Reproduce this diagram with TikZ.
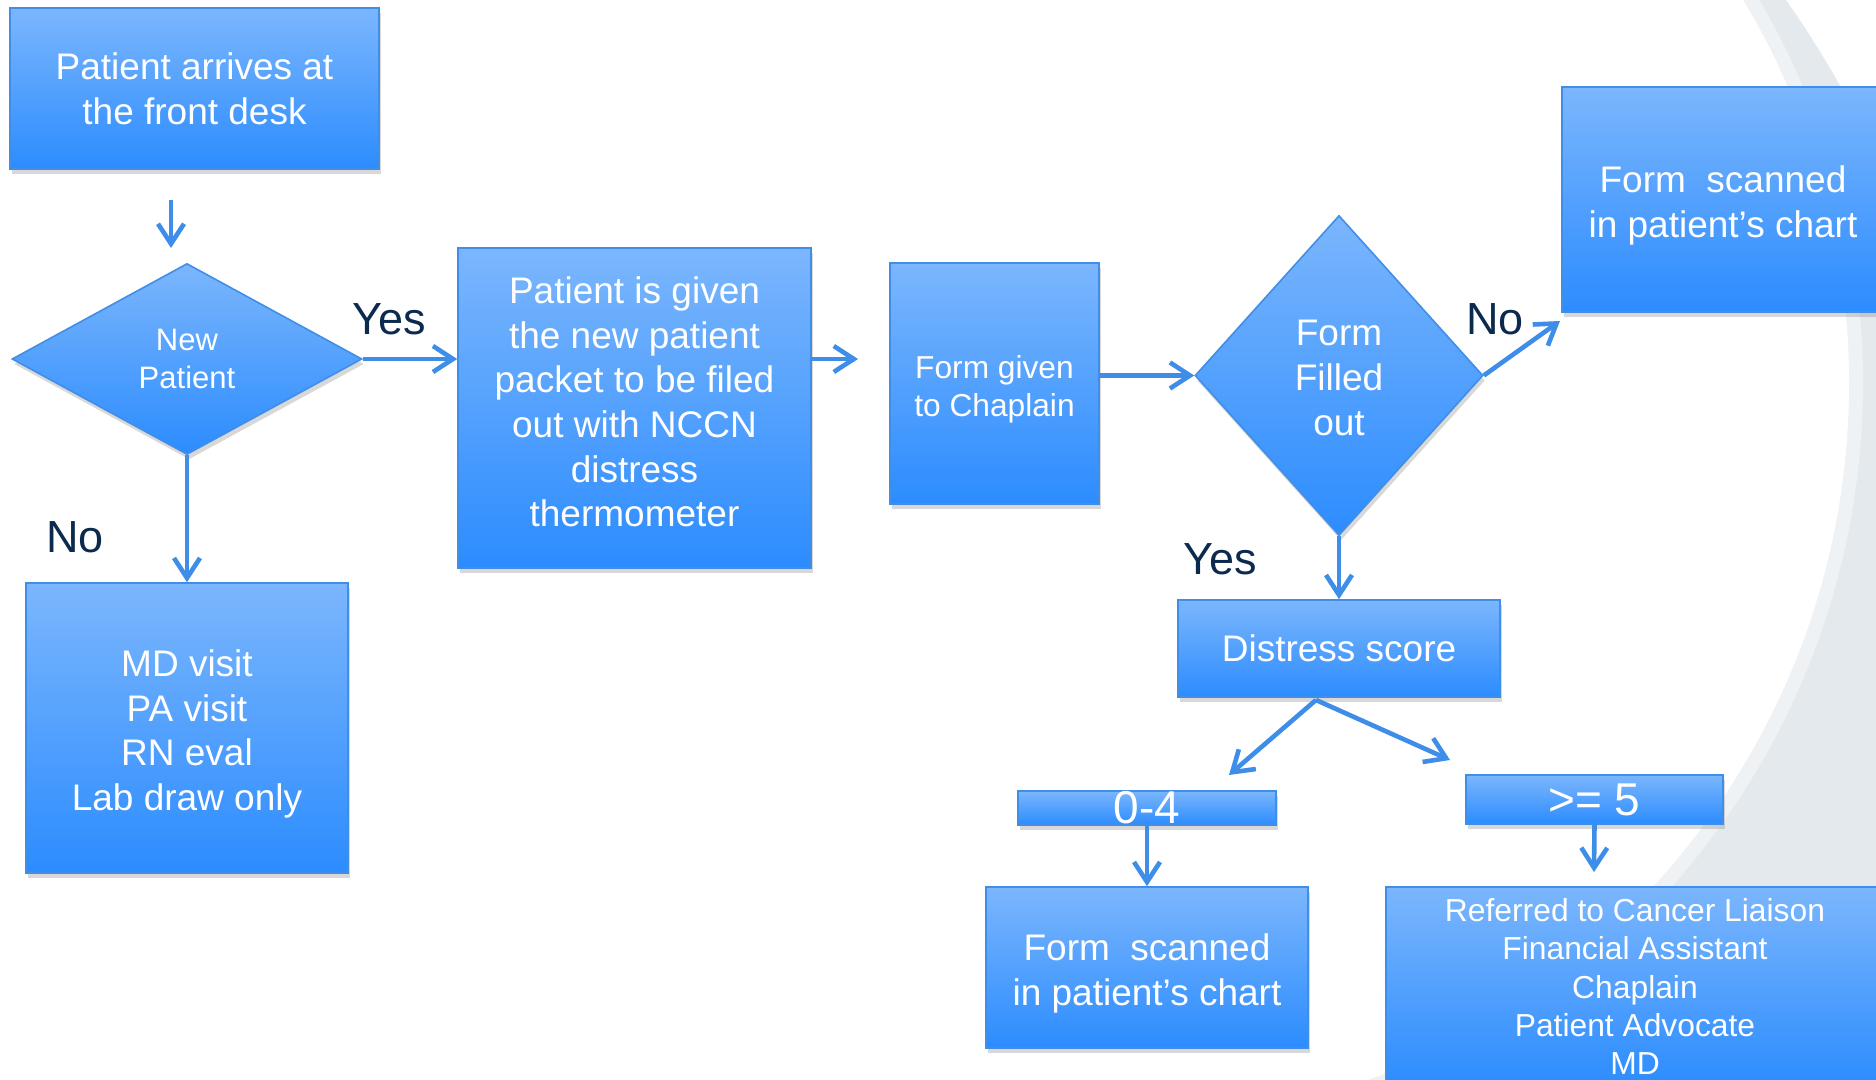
\documentclass[tikz,border=0pt]{standalone}
\usepackage{fontspec}
\setmainfont{Liberation Sans}
\usetikzlibrary{arrows.meta,shapes.geometric,shadows}
\definecolor{boxtop}{RGB}{123,182,253}
\definecolor{boxbot}{RGB}{44,140,254}
\definecolor{boxline}{RGB}{64,142,232}
\definecolor{arrowblue}{RGB}{62,141,232}
\definecolor{lblnavy}{RGB}{12,42,78}
\definecolor{bandgray}{RGB}{227,233,237}
\definecolor{bandlight}{RGB}{238,242,245}
\begin{document}
\begin{tikzpicture}[x=0.5pt,y=-0.5pt,
  flowbox/.style={rectangle, draw=boxline, line width=0.8pt, top color=boxtop, bottom color=boxbot,
    text=white, align=center, inner sep=0pt,
    drop shadow={shadow xshift=1pt, shadow yshift=-2.5pt, opacity=0.3}},
  flowdia/.style={flowbox, diamond},
  boxtext/.style={text=white, align=center, inner sep=0pt},
  arr/.style={draw=arrowblue, line width=2.3pt, -{Straight Barb[length=10pt,width=13pt]}},
  lbl/.style={text=lblnavy, inner sep=0pt, font=\fontsize{22.5pt}{27pt}\selectfont},
  fbig/.style={font=\fontsize{18.5pt}{22.3pt}\selectfont}
]
\useasboundingbox (0,0) rectangle (1876,1080);
\fill[white] (0,0) rectangle (1876,1080);
% background band
\begin{scope}
  \clip (1300,0) rectangle (1876,1080);
  \fill[bandgray] (1300,0) rectangle (1876,1080);
  \fill[bandlight] (1104,383) circle[radius=759];
  \fill[white] (1104,383) circle[radius=745];
  \fill[white] (1786,0) .. controls (1815,40) and (1850,100) .. (1880,160) -- (1880,0) -- cycle;
\end{scope}

% nodes
\node[flowbox, fbig, minimum width=184.5pt, minimum height=80.5pt] (b1) at (194.5,88.5)
  {Patient arrives at\\the front desk};
\node[flowdia, font=\fontsize{15.5pt}{19pt}\selectfont, minimum width=175pt, minimum height=95.5pt] (d1) at (187,359)
  {New\\Patient};
\node[flowbox, minimum width=176.5pt, minimum height=160pt] (b2) at (634.5,408) {};
\node[boxtext, fbig] (b2t) at ([yshift=3pt]b2.center)
  {Patient is given\\the new patient\\packet to be filed\\out with NCCN\\distress\\thermometer};
\node[flowbox, minimum width=104.5pt, minimum height=120.5pt] (b3) at (994.5,383.5) {};
\node[boxtext, font=\fontsize{15.85pt}{19pt}\selectfont] (b3t) at ([yshift=-3pt]b3.center)
  {Form given\\to Chaplain};
\node[flowdia, minimum width=144pt, minimum height=160pt] (d2) at (1339,375.5) {};
\node[boxtext, font=\fontsize{18.5pt}{22.5pt}\selectfont] (d2t) at ([yshift=-1pt]d2.center)
  {Form\\Filled\\out};
\node[flowbox, minimum width=161pt, minimum height=112.5pt] (b4) at (1723,199.5) {};
\node[boxtext, fbig] (b4t) at ([yshift=-3pt]b4.center)
  {Form\ \ scanned\\in patient’s chart};
\node[flowbox, fbig, minimum width=161pt, minimum height=48.5pt] (ds) at (1339,648.5)
  {Distress score};
\node[flowbox, font=\fontsize{23pt}{27pt}\selectfont, minimum width=129pt, minimum height=17pt] (c04) at (1147,808)
  {0-4};
\node[flowbox, font=\fontsize{23pt}{27pt}\selectfont, minimum width=128.5pt, minimum height=24.5pt] (c5) at (1594.5,799.5)
  {>= 5};
\node[flowbox, minimum width=161pt, minimum height=80.5pt] (fs2) at (1147,967.5) {};
\node[boxtext, fbig] (fs2t) at ([yshift=-3pt]fs2.center)
  {Form\ \ scanned\\in patient’s chart};
\node[flowbox, font=\fontsize{15.9pt}{19.15pt}\selectfont, minimum width=249pt, minimum height=99.5pt] (ref) at (1635,986.5)
  {Referred to Cancer Liaison\\Financial Assistant\\Chaplain\\Patient Advocate\\MD};
\node[flowbox, minimum width=161pt, minimum height=145pt] (b5) at (187,728) {};
\node[boxtext, fbig] (b5t) at ([yshift=-3pt]b5.center)
  {MD visit\\PA visit\\RN eval\\Lab draw only};

% labels
\node[lbl] (ly1) at (389,319) {Yes};
\node[lbl] (ln1) at (75,537) {No};
\node[lbl] (ln2) at (1495,319) {No};
\node[lbl] (ly2) at (1220,559) {Yes};

% connectors
\coordinate (a1s) at (171,200);
\coordinate (a1e) at (171,248);
\draw[arr] (a1s) -- (a1e);
\draw[arr] (d1.east) -- (d1.east -| b2.west);
\coordinate (a3e) at (858,359);
\draw[arr] (b2.east |- a3e) -- (a3e);
\draw[arr] (b3.east |- d2.west) -- (d2.west);
\coordinate (a5e) at (1560,321);
\draw[arr] (d2.east) -- (a5e);
\draw[arr] (d2.south) -- (ds.north);
\coordinate (dsb) at (1316,700);
\coordinate (a7e) at (1229,775);
\coordinate (a8e) at (1450,760);
\draw[arr] (dsb) -- (a7e);
\draw[arr] (dsb) -- (a8e);
\draw[arr] (c04.south) -- (fs2.north);
\coordinate (a10e) at (1594,872);
\draw[arr] (c5.south) -- (a10e);
\draw[arr] (d1.south) -- (b5.north);
\end{tikzpicture}
\end{document}
